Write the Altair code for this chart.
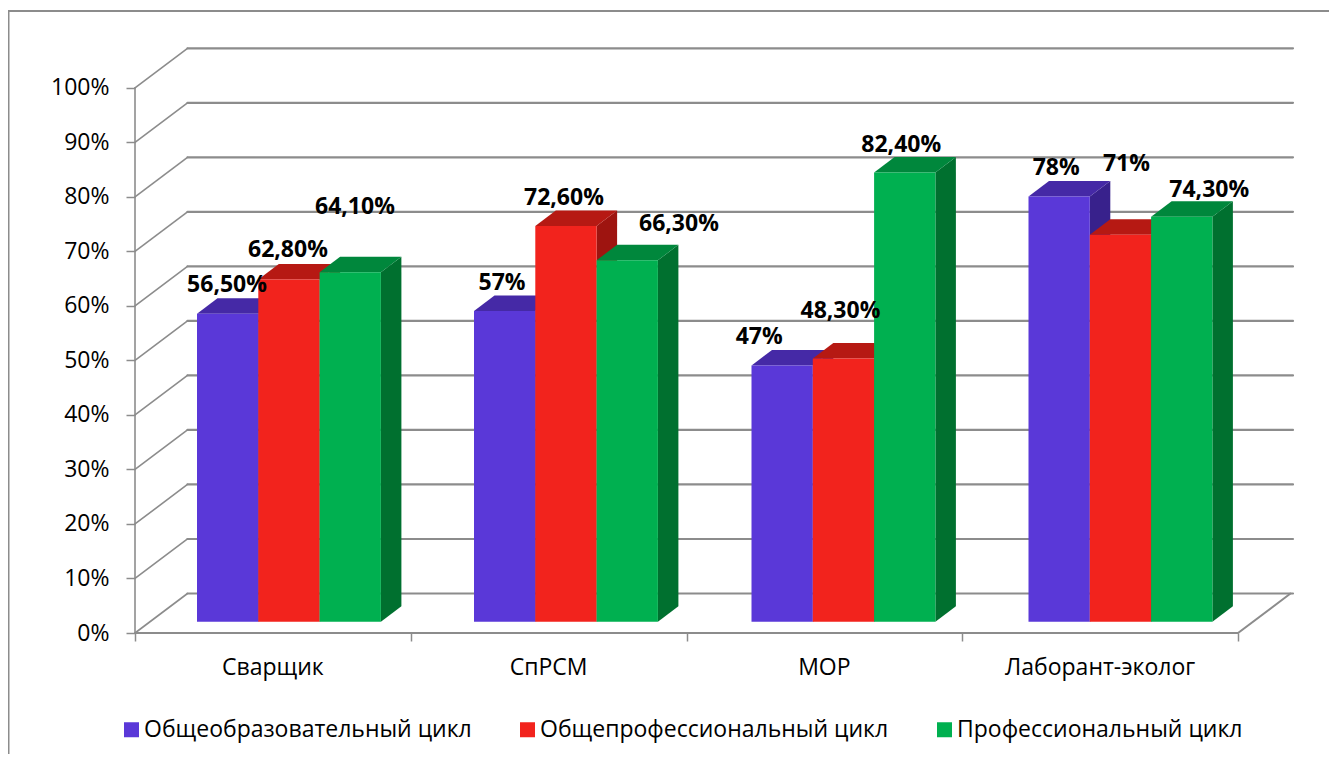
import altair as alt
import pandas as pd

categories = ["Сварщик", "СпРСМ", "МОР", "Лаборант-эколог"]
series = ["Общеобразовательный цикл", "Общепрофессиональный цикл", "Профессиональный цикл"]
values_general = [56.5, 57, 47, 78]
values_common = [62.8, 72.6, 48.3, 71]
values_prof = [64.1, 66.3, 82.4, 74.3]
labels_general = ["56,50%", "57%", "47%", "78%"]
labels_common = ["62,80%", "72,60%", "48,30%", "71%"]
labels_prof = ["64,10%", "66,30%", "82,40%", "74,30%"]

front = ["#5A38D8", "#F2231D", "#00B050"]
top_c = ["#4529A6", "#B61913", "#00873C"]
side_c = ["#38218C", "#9E1410", "#00702F"]

# geometry of the 3-D look, in plot pixels
CAT_PX = 275.75
UNIT_PX = 5.452
W, H = 1158, 586
to_x = lambda px: px / CAT_PX
to_y = lambda px: px / UNIT_PX
XMAX, YMAX = to_x(W), to_y(H)
GROUP_START = [to_x(p) for p in (62, 339, 616.5, 893.5)]
BAR_W = to_x(61.3)
BAR_DX, BAR_DY = to_x(20.5), to_y(15.5)
WALL_DX, WALL_DY = to_x(52.5), to_y(39.5)
BASE = to_y(11.2)

# label nudges from the top-centre of each bar's front (px; x right, y up)
nudge_x = [[-0.6, -2.6, -23, -3], [-1, -2, -3, 6], [4.7, 51.7, -3.5, 27.5]]
nudge_y = [[28.5, 28.5, 28.5, 28.5], [29, 27.5, 47.5, 70.5], [65, 36, 28, 27]]

all_values = [values_general, values_common, values_prof]
all_labels = [labels_general, labels_common, labels_prof]

xs = alt.Scale(domain=[0, XMAX], nice=False, zero=False)
ys = alt.Scale(domain=[0, YMAX], nice=False, zero=False)
colors = alt.Scale(domain=series, range=front)

GREY = "#8C8C8C"
pct = list(range(0, 101, 10))

X_AXIS = alt.Axis(values=[0, 1, 2, 3, 4], labels=False, title=None, grid=False, domain=False,
                  tickSize=8, tickColor=GREY, tickWidth=1.5)
Y_AXIS = alt.Axis(values=pct, labelExpr="datum.value + '%'", title=None, grid=False, domain=False,
                  tickSize=9, tickColor=GREY, tickWidth=1.5, labelPadding=17, labelFont="Open Sans",
                  labelFontSize=23, labelColor="#000000")
X = lambda: alt.X("x:Q", scale=xs, axis=X_AXIS)
Y = lambda: alt.Y("y:Q", scale=ys, axis=Y_AXIS)

back = pd.DataFrame([{"g": v, "x": a, "y": v + WALL_DY} for v in pct for a in (WALL_DX, XMAX)])
left = pd.DataFrame([{"g": v, "x": a, "y": v + b} for v in pct for a, b in ((0, 0), (WALL_DX, WALL_DY))])
floor = pd.DataFrame([{"g": "axis", "x": 0, "y": 0}, {"g": "axis", "x": 4, "y": 0},
                      {"g": "axis", "x": 4 + WALL_DX, "y": WALL_DY}])
yline = pd.DataFrame([{"g": "y", "x": 0, "y": 0}, {"g": "y", "x": 0, "y": 100}])


def line(df, width):
    return alt.Chart(df).mark_line(color=GREY, strokeWidth=width, strokeCap="round").encode(
        x=X(), y=Y(), detail="g:N")


layers = [
    alt.Chart(alt.Data(values=[{}])).mark_rect(fillOpacity=0, stroke=GREY, strokeWidth=2).encode(
        x=alt.value(-126.5), x2=alt.value(1400), y=alt.value(-36), y2=alt.value(900)),
    line(back, 2.2), line(left, 1.6), line(floor, 2), line(yline, 1.6),
]

for s, name in enumerate(series):
    sides, tops, fronts = [], [], []
    for k, v in enumerate(all_values[s]):
        x0 = GROUP_START[k] + s * BAR_W
        x1 = x0 + BAR_W
        t = BASE + v
        sides += [{"g": k, "x": x1, "y": BASE, "y2": t},
                  {"g": k, "x": x1 + BAR_DX, "y": BASE + BAR_DY, "y2": t + BAR_DY}]
        tops += [{"g": k, "x": x0, "y": t, "y2": t},
                 {"g": k, "x": x0 + BAR_DX, "y": t, "y2": t + BAR_DY},
                 {"g": k, "x": x1, "y": t, "y2": t + BAR_DY},
                 {"g": k, "x": x1 + BAR_DX, "y": t + BAR_DY, "y2": t + BAR_DY}]
        fronts.append({"series": name, "x": x0, "x2": x1, "y": BASE, "y2": t})
    for rows, col in ((sides, side_c[s]), (tops, top_c[s])):
        layers.append(alt.Chart(pd.DataFrame(rows)).mark_area(color=col).encode(
            x=X(), y=Y(), y2="y2:Q", detail="g:N"))
    layers.append(alt.Chart(pd.DataFrame(fronts)).mark_rect().encode(
        x=X(), x2="x2:Q", y=Y(), y2="y2:Q",
        color=alt.Color("series:N", scale=colors, legend=alt.Legend(
            title=None, orient="none", legendX=-15, legendY=671, direction="horizontal",
            columns=3, columnPadding=44, symbolType="square", symbolSize=225,
            symbolStrokeWidth=0, symbolOpacity=1, labelFont="Open Sans", labelFontSize=23,
            labelColor="#000000", labelOffset=1, labelLimit=500))))

label_rows = []
for s in range(3):
    for k in range(4):
        v = all_values[s][k]
        cx = GROUP_START[k] + (s + 0.5) * BAR_W
        label_rows.append({"x": cx + to_x(nudge_x[s][k]),
                           "y": BASE + v + to_y(nudge_y[s][k]),
                           "t": all_labels[s][k]})
layers.append(alt.Chart(pd.DataFrame(label_rows)).mark_text(
    font="Open Sans", fontSize=23, fontWeight="bold", color="#000000", baseline="middle").encode(
    x=X(), y=Y(), text="t:N"))

cat_df = pd.DataFrame({"x": [k + 0.5 for k in range(4)], "t": categories})
layers.append(alt.Chart(cat_df).mark_text(
    font="Open Sans", fontSize=23, color="#000000", baseline="middle").encode(
    x=X(), y=alt.value(621), text="t:N"))

chart = alt.layer(*layers).properties(
    width=W, height=H,
    autosize=alt.AutoSizeParams(type="none"),
    padding={"left": 127, "top": 39, "right": 36, "bottom": 121},
).configure_view(stroke=None)

chart.save("out.html", embed_options={"renderer": "svg", "actions": False})
